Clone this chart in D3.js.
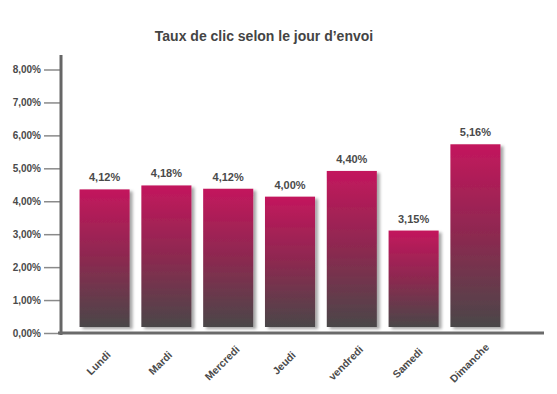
<!DOCTYPE html>
<html>
<head>
<meta charset="utf-8">
<script src="https://cdn.jsdelivr.net/npm/d3@7"></script>
<style>
  html, body { margin: 0; padding: 0; background: #ffffff; }
  svg { display: block; font-family: "Liberation Sans", Arial, sans-serif; }
</style>
</head>
<body>
<svg id="chart" width="557" height="394"></svg>
<script>
// ---- data ----
const days = ["Lundi", "Mardi", "Mercredi", "Jeudi", "vendredi", "Samedi", "Dimanche"];
// click rate shown in the labels (%)
const clickRates = [4.12, 4.18, 4.12, 4.00, 4.40, 3.15, 5.16];
// bar levels as drawn in the picture, read against the axis (%)
const barLevels = [4.36, 4.48, 4.38, 4.14, 4.92, 3.11, 5.73];
const yTicks = [0, 1, 2, 3, 4, 5, 6, 7, 8];
const title = "Taux de clic selon le jour d\u2019envoi";

const svg = d3.select("#chart");
const fmt = v => v.toFixed(2).replace(".", ",") + "%";

const y = d3.scaleLinear().domain([0, 8]).range([333, 69.5]);
const x = d3.scaleBand().domain(days).range([61, 519]).paddingInner(0.19).paddingOuter(0.3);

// defs: gradient + shadow
const defs = svg.append("defs");
const grad = defs.append("linearGradient").attr("id", "barGrad")
  .attr("x1", 0).attr("y1", 0).attr("x2", 0).attr("y2", 1);
grad.append("stop").attr("offset", "0%").attr("stop-color", "#c3175d");
grad.append("stop").attr("offset", "50%").attr("stop-color", "#8c2950");
grad.append("stop").attr("offset", "100%").attr("stop-color", "#4a4749");
const f = defs.append("filter").attr("id", "shadow")
  .attr("x", "-20%").attr("y", "-10%").attr("width", "150%").attr("height", "130%");
f.append("feDropShadow").attr("dx", 3).attr("dy", 2).attr("stdDeviation", 1.8)
  .attr("flood-color", "#000").attr("flood-opacity", 0.35);

// title
svg.append("text").attr("x", 264).attr("y", 41)
  .attr("text-anchor", "middle").attr("font-size", 14).attr("font-weight", "bold")
  .attr("fill", "#444").text(title);

// y axis ticks
const yAxis = d3.axisLeft(y).tickValues(yTicks).tickFormat(fmt).tickSize(17).tickPadding(3);
const gy = svg.append("g").attr("transform", "translate(61,0)").call(yAxis);
gy.select(".domain").remove();
gy.selectAll(".tick line").attr("stroke", "#8a8a8a").attr("stroke-width", 1.5);
gy.selectAll(".tick text").attr("font-size", 10).attr("font-weight", "bold")
  .attr("fill", "#4a4a4a").attr("font-family", "'Liberation Sans', Arial, sans-serif");

// bars
const bottom = y(0) - 6;
svg.append("g").selectAll("rect").data(days).join("rect")
  .attr("x", d => x(d))
  .attr("y", (d, i) => y(barLevels[i]))
  .attr("width", x.bandwidth())
  .attr("height", (d, i) => bottom - y(barLevels[i]))
  .attr("fill", "url(#barGrad)")
  .attr("filter", "url(#shadow)");

// value labels
svg.append("g").selectAll("text").data(days).join("text")
  .attr("x", d => x(d) + x.bandwidth() / 2)
  .attr("y", (d, i) => y(barLevels[i]) - 8)
  .attr("text-anchor", "middle").attr("font-size", 11).attr("font-weight", "bold")
  .attr("fill", "#4a4a4a")
  .text((d, i) => fmt(clickRates[i]));

// axis lines
svg.append("line").attr("x1", 61).attr("x2", 61).attr("y1", 55).attr("y2", 335)
  .attr("stroke", "#666").attr("stroke-width", 3);
svg.append("line").attr("x1", 58).attr("x2", 544).attr("y1", y(0)).attr("y2", y(0))
  .attr("stroke", "#6a6a6a").attr("stroke-width", 3);

// x labels
svg.append("g").selectAll("text").data(days).join("text")
  .attr("transform", d => `translate(${x(d) + x.bandwidth() / 2 - 6},363) rotate(-45)`)
  .attr("dy", "0.35em")
  .attr("text-anchor", "middle").attr("font-size", 10.5).attr("font-weight", "bold")
  .attr("fill", "#4a4a4a")
  .text(d => d);
</script>
</body>
</html>
